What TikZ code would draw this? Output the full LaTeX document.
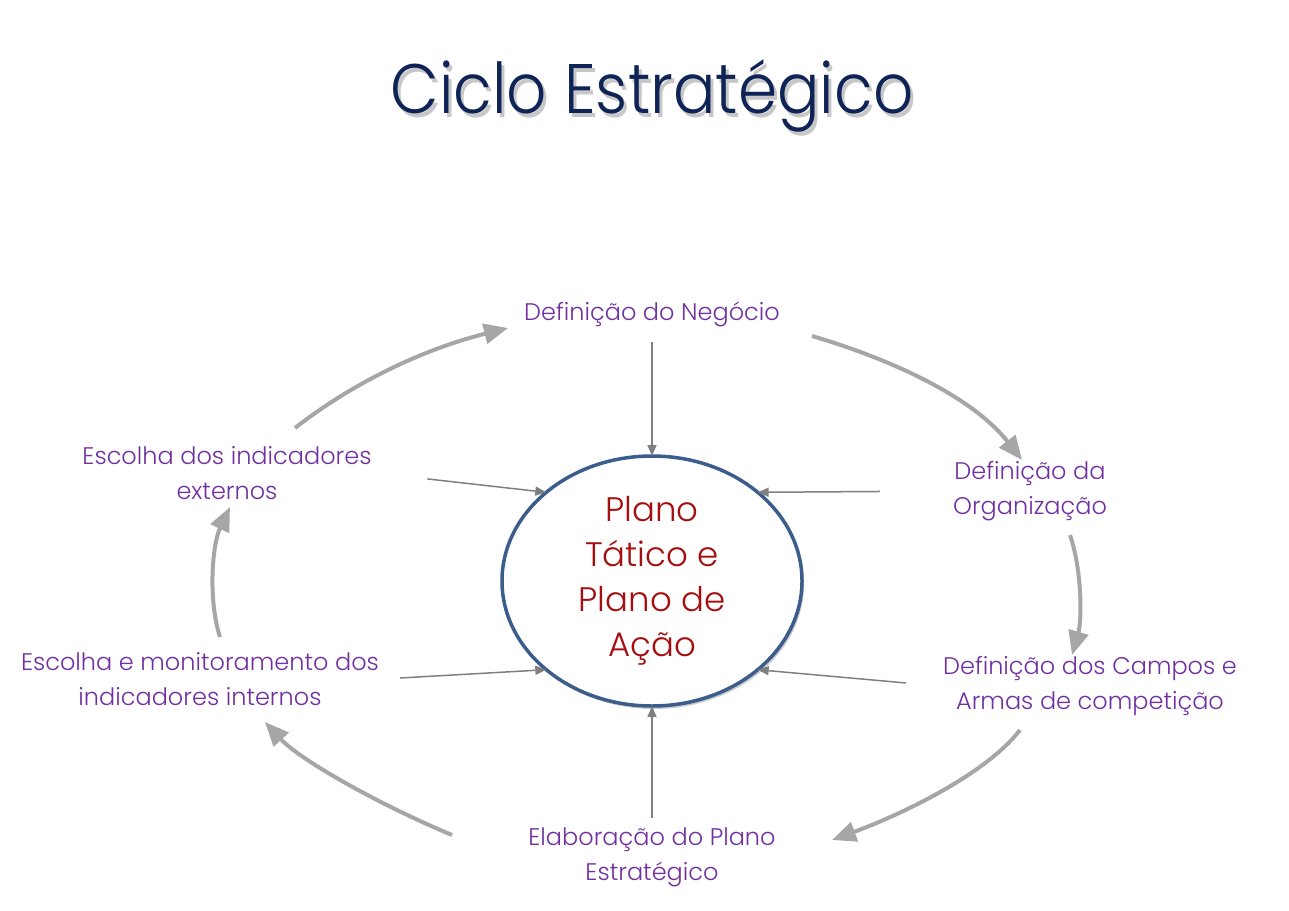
\documentclass[tikz,border=0pt]{standalone}
\usepackage{fontspec}
\setmainfont{Poppins Light}
\usetikzlibrary{arrows.meta, shapes.geometric, shadows}
\definecolor{titleblue}{HTML}{0F2456}
\definecolor{stagepurple}{HTML}{7030A0}
\definecolor{planred}{HTML}{A50F0F}
\definecolor{ringblue}{HTML}{3A5D8C}
\definecolor{cyclegray}{HTML}{A6A6A6}
\definecolor{feedgray}{HTML}{7F7F7F}

\begin{document}
\begin{tikzpicture}[x=1pt, y=-1pt,
  stage/.style={text=stagepurple, align=center, inner sep=3pt, font=\fontsize{24}{35}\selectfont},
  cyclearrow/.style={draw=cyclegray, line width=4pt, -{Triangle[length=24pt, width=20pt]}},
  feedarrow/.style={draw=feedgray, line width=1.5pt, -{Triangle[length=11pt, width=9pt]}}]
\useasboundingbox (0, 0) rectangle (1289, 910);
%Title
\node[text=black, opacity=0.22, xscale=0.9, font=\fontsize{70}{84}\selectfont] (title-shadow) at (655, 100) {Ciclo Estratégico};
\node[text=titleblue, xscale=0.9, font=\fontsize{70}{84}\selectfont] (title) at (652, 96) {Ciclo Estratégico};
%Centre
\node[ellipse, draw=ringblue, fill=white, line width=3.5pt, outer sep=0pt, minimum width=300pt, minimum height=250pt,
  drop shadow={shadow xshift=2pt, shadow yshift=-3pt, opacity=0.2, fill=black},
  text=planred, align=center, font=\fontsize{34}{45}\selectfont] (plan) at (652, 581) {Plano\\Tático e\\Plano de\\Ação};
%Stages
\node[stage] (neg) at (652, 314) {Definição do Negócio};
\node[stage] (org) at (1030, 491) {Definição da\\Organização};
\node[stage] (campos) at (1090, 686) {Definição dos Campos e\\Armas de competição};
\node[stage] (elab) at (652, 857) {Elaboração do Plano\\Estratégico};
\node[stage] (intern) at (200, 679) {Escolha e monitoramento dos\\indicadores internos};
\node[stage] (ext) at (227, 473) {Escolha dos indicadores\\externos};
%Cycle ends
\coordinate (neg-r) at (812, 336);
\coordinate (org-t) at (1022, 460);
\coordinate (org-b) at (1070, 535);
\coordinate (campos-t) at (1072, 655);
\coordinate (campos-b) at (1020, 730);
\coordinate (elab-r) at (832, 840);
\coordinate (elab-l) at (452, 835);
\coordinate (intern-t) at (265, 722);
\coordinate (intern-b) at (220, 637);
\coordinate (ext-b) at (230, 507);
\coordinate (ext-t) at (295, 428);
\coordinate (neg-l) at (508, 328);
\draw[cyclearrow] (neg-r) .. controls (900, 362) and (975, 400) .. (org-t);
\draw[cyclearrow] (org-b) .. controls (1082, 570) and (1082, 620) .. (campos-t);
\draw[cyclearrow] (campos-b) .. controls (985, 775) and (900, 815) .. (elab-r);
\draw[cyclearrow] (elab-l) .. controls (380, 805) and (300, 760) .. (intern-t);
\draw[cyclearrow] (intern-b) .. controls (208, 600) and (212, 545) .. (ext-b);
\draw[cyclearrow] (ext-t) .. controls (350, 385) and (420, 350) .. (neg-l);
%Feeds
\draw[feedarrow, shorten <=12pt] (neg.south) -- (plan.north);
\draw[feedarrow, shorten <=70pt] (org.west) -- (plan.40);
\draw[feedarrow, shorten <=34pt] (campos.west) -- (plan.-40);
\draw[feedarrow, shorten <=6pt] (elab.north) -- (plan.south);
\draw[feedarrow, shorten <=18pt] (intern.east) -- (plan.-140);
\draw[feedarrow, shorten <=53pt] (ext.east) -- (plan.140);
\end{tikzpicture}
\end{document}
